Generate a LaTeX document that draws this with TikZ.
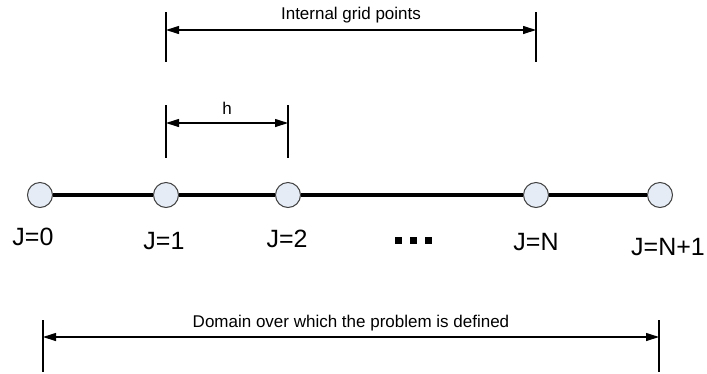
\documentclass[tikz,border=0pt]{standalone}
\usepackage{fontspec}
\setmainfont{Liberation Sans}
\usetikzlibrary{arrows.meta}
\definecolor{ptfill}{HTML}{E6ECF6}
\begin{document}
\begin{tikzpicture}[x=1pt,y=-1pt,
  gpt/.style={circle,draw=black!75,fill=ptfill,minimum size=25pt,inner sep=0pt,line width=1pt},
  lbl/.style={inner sep=0pt,font=\fontsize{25}{30}\selectfont},
  dimtxt/.style={inner sep=0pt,font=\fontsize{17}{20}\selectfont},
  tickline/.style={line width=1.3pt},
  dimline/.style={line width=1.1pt,{Triangle[length=13pt,width=8pt]}-{Triangle[length=13pt,width=8pt]}},
  axisline/.style={line width=3.5pt}]
\useasboundingbox (0,0) rectangle (707,373);
% grid points
\node[gpt] (j0) at (40,195) {};
\node[gpt] (j1) at (166,195) {};
\node[gpt] (j2) at (288,195) {};
\node[gpt] (jn) at (536,195) {};
\node[gpt] (jn1) at (660,195) {};
\draw[axisline] (j0) -- (j1);
\draw[axisline] (j1) -- (j2);
\draw[axisline] (j2) -- (jn);
\draw[axisline] (jn) -- (jn1);
% labels
\node[lbl] (l0) at (33,237) {J=0};
\node[lbl] (l1) at (164,241) {J=1};
\node[lbl] (l2) at (287,239) {J=2};
\node[inner sep=0pt] (dots) at (413,240) {\rule{7pt}{7pt}\hspace{8pt}\rule{7pt}{7pt}\hspace{8pt}\rule{7pt}{7pt}};
\node[lbl] (ln) at (536,242) {J=N};
\node[lbl] (ln1) at (668,247) {J=N+1};
% internal grid points
\coordinate (ta1) at (166,12); \coordinate (tb1) at (166,62);
\coordinate (ta2) at (536,12); \coordinate (tb2) at (536,62);
\coordinate (tl) at (166,30); \coordinate (tr) at (536,30);
\draw[tickline] (ta1) -- (tb1);
\draw[tickline] (ta2) -- (tb2);
\draw[dimline] (tl) -- (tr);
\node[dimtxt] (ttxt) at (351,15) {Internal grid points};
% h
\coordinate (ha1) at (166,105); \coordinate (hb1) at (166,158);
\coordinate (ha2) at (288,105); \coordinate (hb2) at (288,158);
\coordinate (hl) at (166,123); \coordinate (hr) at (288,123);
\draw[tickline] (ha1) -- (hb1);
\draw[tickline] (ha2) -- (hb2);
\draw[dimline] (hl) -- (hr);
\node[dimtxt] (htxt) at (227,108) {h};
% domain
\coordinate (da1) at (43,320); \coordinate (db1) at (43,372);
\coordinate (da2) at (659,320); \coordinate (db2) at (659,372);
\coordinate (dl) at (43,337); \coordinate (dr) at (659,337);
\draw[tickline] (da1) -- (db1);
\draw[tickline] (da2) -- (db2);
\draw[dimline] (dl) -- (dr);
\node[dimtxt] (dtxt) at (351,323) {Domain over which the problem is defined};
\end{tikzpicture}
\end{document}
